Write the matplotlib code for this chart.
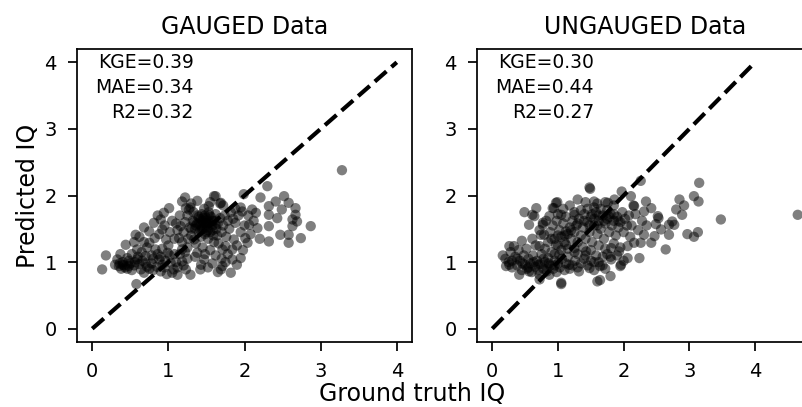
import numpy as np
import matplotlib
matplotlib.use("Agg")
import matplotlib.pyplot as plt

# (ground truth, predicted) pairs for each test set
gauged_points = [
    (3.28, 2.38), (0.13, 0.89), (0.18, 1.10), (0.58, 0.67), (0.57, 1.41), (0.44, 1.26),
    (0.75, 1.46), (0.81, 1.59), (0.90, 1.64), (0.94, 1.74), (1.01, 1.81), (1.22, 1.97),
    (1.18, 1.91), (1.23, 1.81), (1.27, 1.79), (1.29, 1.82), (1.53, 1.84), (1.60, 1.99),
    (1.69, 1.89), (1.62, 1.99), (1.68, 1.88),
    (1.99, 2.02), (2.21, 1.97), (2.30, 2.14), (2.52, 1.99), (2.41, 1.91), (2.58, 1.89),
    (2.32, 1.84), (2.67, 1.81), (2.10, 1.79), (1.97, 1.76), (2.49, 1.79), (2.32, 1.71),
    (2.67, 1.71), (2.15, 1.74), (2.43, 1.66), (2.63, 1.64), (2.69, 1.61), (2.06, 1.56),
    (2.17, 1.51), (2.32, 1.54), (2.63, 1.54), (2.87, 1.54), (1.88, 1.59), (2.47, 1.41),
    (2.58, 1.41), (2.74, 1.36), (2.58, 1.29), (2.32, 1.31), (2.01, 1.36), (2.04, 1.29),
    (1.86, 1.34), (1.75, 1.24), (1.95, 1.06), (1.84, 1.04), (1.90, 0.96), (1.82, 0.84),
    (1.71, 0.94), (1.84, 1.19), (1.71, 1.19), (1.29, 0.81), (1.23, 0.89), (1.43, 0.96),
    (0.33, 1.04), (0.35, 0.94), (0.46, 1.06), (0.48, 0.94), (0.59, 1.19), (0.59, 1.04),
    (0.64, 0.89), (0.68, 0.84), (0.70, 1.09), (0.75, 1.29), (0.83, 1.19), (0.88, 1.04),
    (0.92, 1.49), (0.97, 1.34), (0.99, 1.14), (1.03, 0.99), (1.07, 0.89), (1.12, 0.81),
    (1.16, 1.54), (1.18, 1.19), (1.18, 1.01), (1.14, 1.36), (1.34, 1.34), (1.38, 1.14),
    (1.47, 1.04), (1.42, 0.89), (1.69, 0.89),
    (0.30, 0.96), (0.38, 0.90), (0.40, 1.00), (0.43, 0.92), (0.50, 0.98), (0.52, 0.88),
    (0.55, 0.95), (0.62, 0.97), (0.66, 1.02), (0.72, 0.93), (0.78, 0.98), (0.80, 0.88),
    (0.85, 0.93), (0.90, 0.86), (0.95, 0.92), (0.98, 0.82), (1.05, 0.84), (0.37, 1.12),
    (0.52, 1.12), (0.65, 1.15), (0.72, 1.22), (0.78, 1.10), (0.86, 1.12), (0.92, 1.20),
    (1.00, 1.25), (1.08, 1.12), (1.10, 1.00), (1.12, 0.92), (1.20, 0.95), (1.25, 1.05),
    (0.55, 1.30), (0.62, 1.38), (0.68, 1.30), (0.82, 1.36), (0.88, 1.42), (0.95, 1.55),
    (1.02, 1.45), (1.05, 1.62), (1.08, 1.35), (0.68, 1.52), (0.86, 1.70),
    (1.20, 1.45), (1.22, 1.60), (1.25, 1.70), (1.28, 1.52), (1.30, 1.40), (1.32, 1.62),
    (1.33, 1.75), (1.35, 1.50), (1.36, 1.28), (1.38, 1.58), (1.40, 1.68), (1.40, 1.45),
    (1.42, 1.55), (1.43, 1.38), (1.44, 1.72), (1.45, 1.62), (1.46, 1.50), (1.47, 1.80),
    (1.48, 1.42), (1.49, 1.58), (1.50, 1.66), (1.51, 1.52), (1.52, 1.35), (1.53, 1.75),
    (1.54, 1.60), (1.55, 1.45), (1.56, 1.68), (1.58, 1.55), (1.59, 1.40), (1.60, 1.62),
    (1.62, 1.72), (1.63, 1.50), (1.65, 1.58), (1.66, 1.28), (1.68, 1.66), (1.70, 1.45),
    (1.72, 1.55), (1.74, 1.70), (1.76, 1.38), (1.78, 1.62), (1.80, 1.50), (1.82, 1.75),
    (1.85, 1.65), (1.88, 1.80), (1.92, 1.70), (1.95, 1.82), (1.30, 1.88), (1.38, 1.92),
    (1.55, 1.90), (1.72, 1.85), (1.15, 1.70), (1.18, 1.30), (1.25, 1.22), (1.45, 1.22),
    (1.55, 1.18), (1.62, 1.10), (1.70, 1.05), (1.35, 1.08), (1.48, 1.12), (1.58, 0.98),
    (1.52, 0.92), (1.65, 0.85), (1.75, 1.00), (1.78, 1.12), (1.60, 1.30), (1.42, 1.65),
    (1.48, 1.70), (1.52, 1.48), (1.36, 1.55), (1.44, 1.50), (1.50, 1.58), (1.58, 1.62),
    (1.64, 1.40), (1.26, 1.35), (1.12, 1.48), (1.10, 1.58), (1.95, 1.45), (2.00, 1.55),
    (2.05, 1.70), (1.90, 1.25), (1.98, 1.18), (2.08, 1.42), (2.12, 1.62), (2.20, 1.35),
    (1.34, 1.60), (1.38, 1.70), (1.42, 1.48), (1.46, 1.58), (1.50, 1.45), (1.54, 1.70),
    (1.58, 1.48), (1.46, 1.66), (1.40, 1.58), (1.52, 1.62), (1.30, 1.50), (1.62, 1.56),
    (0.40, 0.96), (0.46, 0.90), (0.56, 1.00), (0.70, 0.98), (0.75, 0.90), (0.92, 0.96),
    (0.36, 0.98), (0.42, 0.95), (0.48, 1.02), (0.80, 1.05), (0.90, 1.08), (0.96, 1.02),
    (1.02, 1.10), (1.15, 1.12), (1.22, 1.15), (0.60, 1.08),
]

ungauged_points = [
    (4.65, 1.71), (3.48, 1.64), (3.15, 2.19), (3.07, 1.99), (3.14, 1.91), (2.85, 1.94),
    (2.92, 1.85), (2.80, 1.79), (2.89, 1.71), (2.74, 1.61), (2.69, 1.56), (2.53, 1.66),
    (2.57, 1.49), (2.69, 1.41), (2.97, 1.42), (3.07, 1.38), (3.13, 1.45), (2.64, 1.19),
    (2.42, 1.29), (2.47, 1.39), (2.24, 1.06), (2.26, 2.22), (2.11, 1.99), (1.97, 2.06),
    (1.49, 2.10), (1.30, 1.94), (1.42, 1.90), (0.99, 1.90), (0.94, 1.81), (0.67, 1.81),
    (0.49, 1.75), (0.64, 1.69), (0.56, 1.56), (0.77, 1.59), (0.74, 1.41), (0.61, 1.35),
    (0.26, 1.24), (0.16, 1.10), (0.21, 0.94), (1.05, 0.67), (1.64, 0.73), (1.80, 0.79),
    (1.95, 0.94), (1.64, 0.94), (0.72, 0.74), (0.87, 0.81),
    (1.86, 1.94), (1.76, 1.89), (2.34, 1.91), (2.16, 1.84), (2.42, 1.81), (2.31, 1.76),
    (2.52, 1.69), (2.49, 1.57), (2.77, 1.56), (2.31, 1.41), (2.26, 1.29), (2.16, 1.29),
    (2.06, 1.24), (1.93, 1.16), (2.06, 1.06), (1.96, 0.96), (1.81, 1.04), (1.81, 1.21),
    (0.33, 1.24), (0.61, 1.71), (0.77, 1.56), (0.97, 1.89), (0.92, 1.81), (1.05, 1.71),
    (0.87, 1.69), (0.79, 1.41), (0.72, 1.24), (1.48, 2.12), (1.55, 1.91), (1.25, 1.71),
    (1.12, 1.46), (1.05, 0.69), (1.60, 0.71), (0.26, 0.96), (0.41, 0.81), (0.56, 0.86),
    (0.72, 0.81), (0.84, 0.91), (1.02, 1.11), (1.17, 0.96), (1.32, 0.86), (1.48, 0.91),
    (1.25, 1.21), (1.43, 1.16), (1.12, 1.26), (0.97, 1.26),
    (0.20, 1.05), (0.25, 1.00), (0.30, 0.92), (0.35, 1.08), (0.38, 0.95), (0.42, 1.02),
    (0.45, 0.88), (0.48, 1.10), (0.50, 0.96), (0.53, 0.90), (0.55, 1.05), (0.58, 0.98),
    (0.60, 0.85), (0.62, 1.10), (0.65, 0.93), (0.68, 1.02), (0.70, 0.88), (0.73, 0.97),
    (0.75, 1.12), (0.78, 0.90), (0.80, 1.00), (0.83, 0.86), (0.85, 1.06), (0.88, 0.95),
    (0.90, 1.15), (0.93, 0.90), (0.95, 1.02), (0.98, 0.85), (1.00, 0.98), (1.03, 0.92),
    (1.06, 1.05), (1.10, 0.88), (1.12, 0.98), (1.15, 1.08), (1.18, 0.90), (1.22, 0.95),
    (1.26, 1.02), (1.30, 0.92), (1.35, 0.98), (1.40, 1.05), (1.45, 0.95), (1.50, 1.02),
    (1.55, 0.88), (1.58, 1.10), (1.62, 1.00), (1.68, 1.08), (1.72, 0.90), (1.75, 1.12),
    (0.28, 1.15), (0.40, 1.18), (0.52, 1.20), (0.66, 1.25), (0.45, 1.32),
    (0.85, 1.30), (0.88, 1.45), (0.92, 1.55), (0.95, 1.35), (0.98, 1.62), (1.00, 1.25),
    (1.02, 1.48), (1.05, 1.38), (1.08, 1.58), (1.10, 1.30), (1.12, 1.68), (1.15, 1.42),
    (1.18, 1.52), (1.20, 1.35), (1.22, 1.62), (1.25, 1.45), (1.28, 1.55), (1.30, 1.30),
    (1.32, 1.65), (1.35, 1.40), (1.38, 1.52), (1.40, 1.72), (1.42, 1.35), (1.45, 1.60),
    (1.48, 1.45), (1.50, 1.68), (1.52, 1.30), (1.55, 1.55), (1.58, 1.75), (1.60, 1.42),
    (1.62, 1.62), (1.65, 1.50), (1.68, 1.70), (1.70, 1.35), (1.72, 1.58), (1.75, 1.65),
    (1.78, 1.45), (1.80, 1.72), (1.82, 1.55), (1.85, 1.62), (1.88, 1.40), (1.90, 1.68),
    (1.92, 1.52), (1.95, 1.60), (1.98, 1.75), (2.00, 1.45), (2.02, 1.65), (2.05, 1.55),
    (2.08, 1.70), (2.10, 1.38), (1.25, 1.75), (1.35, 1.78), (1.45, 1.80), (1.55, 1.82),
    (1.65, 1.80), (1.75, 1.78), (1.15, 1.20), (1.25, 1.15), (1.38, 1.22), (1.50, 1.18),
    (1.62, 1.25), (1.72, 1.20), (1.85, 1.28), (1.95, 1.22), (0.80, 1.20), (0.72, 1.48),
    (0.82, 1.62), (1.00, 1.72), (1.08, 1.80), (1.18, 1.85), (1.60, 1.88), (1.72, 1.90),
    (1.85, 1.85), (0.95, 1.12), (1.05, 1.18), (1.30, 1.12), (1.42, 1.10), (1.55, 1.00),
    (1.68, 0.95), (1.80, 1.08), (1.90, 1.10), (2.00, 1.02), (2.12, 1.55), (2.18, 1.72),
    (2.22, 1.48), (2.28, 1.62), (2.35, 1.55), (2.15, 1.85),
    (1.40, 1.62), (1.48, 1.55), (1.55, 1.65), (1.62, 1.70), (1.70, 1.62), (1.78, 1.68),
    (1.85, 1.72), (1.92, 1.62), (1.60, 1.55), (1.52, 1.72), (1.30, 1.58), (1.20, 1.48),
    (1.10, 1.40), (1.00, 1.40), (0.90, 1.35), (0.30, 1.02), (0.38, 1.05), (0.46, 0.98),
    (0.55, 0.92), (0.63, 1.00), (0.70, 0.96), (0.78, 1.05), (0.86, 0.98), (0.95, 0.95),
]

score_names = ["KGE", "MAE", "R2"]
gauged_scores = [0.39, 0.34, 0.32]
ungauged_scores = [0.30, 0.44, 0.27]
panel_titles = ["GAUGED Data", "UNGAUGED Data"]
ticks = [0, 1, 2, 3, 4]


def draw_panel(ax, points, scores, title):
    pts = np.array(points)
    ax.scatter(pts[:, 0], pts[:, 1], s=55, color="black", alpha=0.5,
               edgecolors="none", zorder=2)
    # 1:1 reference line
    ax.plot([0, 4], [0, 4], color="black", linestyle="--", lw=3, zorder=3)
    text = "\n".join(f"{n}={v:.2f}" for n, v in zip(score_names, scores))
    ax.text(0.055, 0.985, text, transform=ax.transAxes, va="top", ha="left",
            multialignment="right", fontsize=13.5, linespacing=1.38)
    ax.set_title(title, fontsize=17, pad=11)
    ax.set_xticks(ticks)
    ax.set_yticks(ticks)
    ax.tick_params(length=6.5, width=1.25, labelsize=14, pad=8)
    for sp in ax.spines.values():
        sp.set_linewidth(1.25)


fig = plt.figure(figsize=(8.03, 4.07), dpi=100)
ax1 = fig.add_axes([77 / 803, 65 / 407, 335 / 803, 293 / 407])
ax2 = fig.add_axes([477 / 803, 65 / 407, 336 / 803, 293 / 407])

draw_panel(ax1, gauged_points, gauged_scores, panel_titles[0])
draw_panel(ax2, ungauged_points, ungauged_scores, panel_titles[1])

ax1.set_ylabel("Predicted IQ", fontsize=17, labelpad=3)
fig.text(412 / 803, 0.003, "Ground truth IQ", ha="center", va="bottom", fontsize=17)

plt.savefig("out.png", dpi=100)
plt.close()
